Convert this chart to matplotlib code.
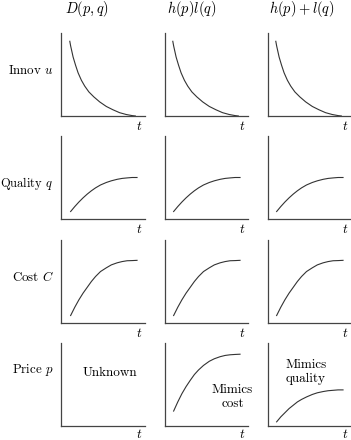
import matplotlib
matplotlib.use("Agg")
import matplotlib.pyplot as plt

plt.rcParams['mathtext.fontset'] = 'cm'
plt.rcParams['font.family'] = ['cmr10', 'DejaVu Serif']
plt.rcParams['axes.unicode_minus'] = False

col_titles = [r'$D(p,q)$', r'$h(p)l(q)$', r'$h(p)+l(q)$']
row_labels = [r'Innov $u$', r'Quality $q$', r'Cost $C$', r'Price $p$']

# curve samples (t, value), in panel units 0..1
innov_t = [0.10, 0.11, 0.12, 0.14, 0.17, 0.20, 0.24, 0.28, 0.33, 0.39, 0.46, 0.54, 0.62, 0.70, 0.78, 0.85, 0.89]
innov_v = [0.90, 0.845, 0.80, 0.71, 0.61, 0.52, 0.43, 0.36, 0.29, 0.23, 0.17, 0.115, 0.075, 0.04, 0.018, 0.005, 0.0]

grow_t = [0.11, 0.16, 0.21, 0.26, 0.31, 0.36, 0.41, 0.47, 0.54, 0.60, 0.67, 0.73, 0.79, 0.85, 0.91]
quality_v = [0.09, 0.15, 0.205, 0.255, 0.30, 0.34, 0.375, 0.41, 0.44, 0.46, 0.478, 0.489, 0.495, 0.50, 0.50]
cost_v = [0.09, 0.19, 0.28, 0.36, 0.43, 0.50, 0.56, 0.62, 0.665, 0.70, 0.725, 0.74, 0.75, 0.752, 0.755]
price_cost_v = [0.18, 0.29, 0.39, 0.475, 0.55, 0.62, 0.675, 0.73, 0.78, 0.81, 0.835, 0.85, 0.858, 0.862, 0.865]
price_quality_v = [0.05, 0.11, 0.16, 0.21, 0.25, 0.29, 0.32, 0.35, 0.38, 0.40, 0.415, 0.425, 0.43, 0.435, 0.435]

W, H = 351, 440
fig = plt.figure(figsize=(W / 100, H / 100), dpi=100)

col_left = [61.5, 164.5, 267.5]
row_top = [33, 136, 240, 343]
panel = 83
row_label_y = [71, 183, 277, 370]
row_label_size = [9.3, 9.0, 9.3, 9.3]

line_col = '#333333'
spine_col = '#444444'

axes = {}
for r in range(4):
    for c in range(3):
        ax = fig.add_axes([col_left[c] / W, 1 - (row_top[r] + panel) / H, panel / W, panel / H])
        ax.set_xlim(0, 1)
        ax.set_ylim(0, 1)
        for s in ['top', 'right']:
            ax.spines[s].set_visible(False)
        for s in ['left', 'bottom']:
            ax.spines[s].set_color(spine_col)
            ax.spines[s].set_linewidth(0.9)
        ax.set_xticks([])
        ax.set_yticks([])
        ax.patch.set_alpha(0)
        ty = -0.125 if r < 3 else -0.105
        ax.text(0.94, ty, r'$t$', transform=ax.transAxes, ha='center', va='center', fontsize=9.5)
        axes[(r, c)] = ax

for c in range(3):
    axes[(0, c)].plot(innov_t, innov_v, color=line_col, lw=0.8)
    axes[(1, c)].plot(grow_t, quality_v, color=line_col, lw=0.8)
    axes[(2, c)].plot(grow_t, cost_v, color=line_col, lw=0.8)

axes[(3, 1)].plot(grow_t, price_cost_v, color=line_col, lw=0.8)
axes[(3, 2)].plot(grow_t, price_quality_v, color=line_col, lw=0.8)

axes[(3, 0)].text(0.58, 0.64, 'Unknown', transform=axes[(3, 0)].transAxes, ha='center', va='center', fontsize=9.5)
axes[(3, 1)].text(0.82, 0.35, 'Mimics\ncost', transform=axes[(3, 1)].transAxes, ha='center', va='center',
                  fontsize=9.5, linespacing=1.25)
axes[(3, 2)].text(0.46, 0.65, 'Mimics\nquality', transform=axes[(3, 2)].transAxes, ha='center', va='center',
                  fontsize=9.5, linespacing=1.25)

title_left = [65, 167, 269]
for c in range(3):
    fig.text(title_left[c] / W, 1 - 9 / H, col_titles[c], ha='left', va='center', fontsize=10.4)

for r in range(4):
    fig.text(53.5 / W, 1 - row_label_y[r] / H, row_labels[r], ha='right', va='center', fontsize=row_label_size[r])

fig.savefig('out.png', dpi=100)
